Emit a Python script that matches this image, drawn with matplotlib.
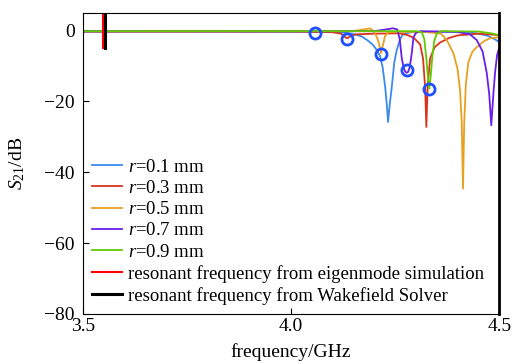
import matplotlib
matplotlib.use("Agg")
import matplotlib.pyplot as plt

plt.rcParams['font.family'] = ['Liberation Serif', 'DejaVu Serif']
plt.rcParams['mathtext.fontset'] = 'custom'
plt.rcParams['mathtext.rm'] = 'Liberation Serif'
plt.rcParams['mathtext.it'] = 'Liberation Serif:italic'

# ---- data (frequency in GHz, S21 in dB)
f_r01 = [3.5, 3.7, 3.9, 4.05, 4.12, 4.15, 4.17, 4.185, 4.197, 4.207, 4.214, 4.22,
         4.226, 4.23, 4.233, 4.237, 4.242, 4.248, 4.254, 4.262, 4.27, 4.29, 4.32,
         4.38, 4.44, 4.47, 4.49, 4.5]
s_r01 = [-0.3, -0.3, -0.4, -0.5, -0.6, -1.1, -1.8, -3.0, -4.2, -5.8, -7.4, -10.5,
         -16, -21, -25.9, -21, -16, -9, -5.6, -2.5, -1.0, -0.6, -0.5,
         -0.5, -0.8, -1.5, -2.6, -3.4]

f_r03 = [3.5, 3.8, 4.0, 4.1, 4.12, 4.13, 4.135, 4.142, 4.155, 4.2, 4.26, 4.28,
         4.295, 4.31, 4.317, 4.322, 4.325, 4.328, 4.334, 4.345, 4.358, 4.38, 4.4,
         4.45, 4.5]
s_r03 = [-0.4, -0.4, -0.4, -0.6, -1.0, -2.0, -2.3, -1.8, -1.2, -1.0, -0.9, -1.4,
         -2.2, -4.0, -8, -16, -27.3, -16, -8, -4.8, -3.5, -2.2, -1.5,
         -1.0, -1.4]

f_r05 = [3.5, 3.8, 4.15, 4.19, 4.2, 4.208, 4.213, 4.216, 4.22, 4.226, 4.234, 4.25,
         4.32, 4.36, 4.374, 4.39, 4.4, 4.406, 4.41, 4.413, 4.416, 4.42, 4.426,
         4.436, 4.446, 4.465, 4.478, 4.5]
s_r05 = [-0.5, -0.4, -0.3, 0.5, -0.5, -2.5, -4.8, -6.5, -4.5, -1.6, -0.6, -0.5,
         -0.5, -1.0, -2.8, -6.5, -11, -17, -26, -44.7, -26, -15, -9,
         -6, -4.8, -3.0, -2.3, -2.0]

f_r07 = [3.5, 3.9, 4.2, 4.245, 4.255, 4.261, 4.266, 4.271, 4.275, 4.278, 4.281,
         4.285, 4.29, 4.294, 4.3, 4.31, 4.4, 4.43, 4.446, 4.46, 4.47, 4.476,
         4.481, 4.486, 4.49, 4.495, 4.5]
s_r07 = [-0.4, -0.4, -0.3, 0.5, 0.2, -2.5, -8.0, -10.8, -11.8, -12, -11.8,
         -10.5, -6.5, -2.0, -0.8, -0.3, -0.5, -1.2, -2.8, -6, -12, -18,
         -26.8, -18, -12, -7.0, -5.0]

f_r09 = [3.5, 3.9, 4.3, 4.314, 4.32, 4.325, 4.329, 4.332, 4.335, 4.339, 4.344,
         4.35, 4.36, 4.45, 4.48, 4.5]
s_r09 = [-0.3, -0.3, -0.3, -0.6, -2.5, -8.0, -13.5, -16.5, -13.5, -8.0, -3.0,
         -1.0, -0.3, -0.4, -0.9, -1.4]

# resonance markers
f_mark = [4.058, 4.135, 4.216, 4.278, 4.332]
s_mark = [-0.9, -2.5, -6.8, -11.3, -16.7]

f_eigen = 3.548
f_wake = 3.553

labels = [r'$r$=0.1 mm', r'$r$=0.3 mm', r'$r$=0.5 mm', r'$r$=0.7 mm', r'$r$=0.9 mm']
colors = ['#3a8af0', '#d8341a', '#e8a020', '#6a1ee8', '#62c800']

fig = plt.figure(figsize=(5.12, 3.63), dpi=100)
ax = fig.add_axes([0.162, 0.135, 0.813, 0.829])

for f, s, lab, c in zip([f_r01, f_r03, f_r05, f_r07, f_r09],
                        [s_r01, s_r03, s_r05, s_r07, s_r09], labels, colors):
    ax.plot(f, s, color=c, lw=1.3, label=lab)

ax.plot([f_eigen, f_eigen], [-5, 5], color='#ff0000', lw=1.5,
        label='resonant frequency from eigenmode simulation')
ax.plot([f_wake, f_wake], [-5, 5], color='k', lw=2.2,
        label='resonant frequency from Wakefield Solver')

ax.plot(f_mark, s_mark, 'o', ms=8, mfc='none', mec='#1f4fff', mew=2)

ax.set_xlim(3.5, 4.5)
ax.set_ylim(-80, 4.8)
ax.set_xticks([3.5, 4.0, 4.5])
ax.set_xticklabels(['3.5', '4.0', '4.5'])
ax.set_yticks([0, -20, -40, -60, -80])
ax.tick_params(direction='in', length=4, labelsize=14, top=False, right=False)
ax.tick_params(axis='y', pad=6)
ax.tick_params(axis='x', pad=3)
ax.spines['right'].set_linewidth(2)

ax.set_xlabel('frequency/GHz', fontsize=14, labelpad=6)
ax.set_ylabel(r'$S_{21}$/dB', fontsize=14, labelpad=12)

ax.legend(loc='lower left', frameon=False, fontsize=13.5, handlelength=1.6,
          labelspacing=0.22, handletextpad=0.3, borderaxespad=0.2,
          borderpad=0.3)

fig.savefig('out.png', dpi=100)
